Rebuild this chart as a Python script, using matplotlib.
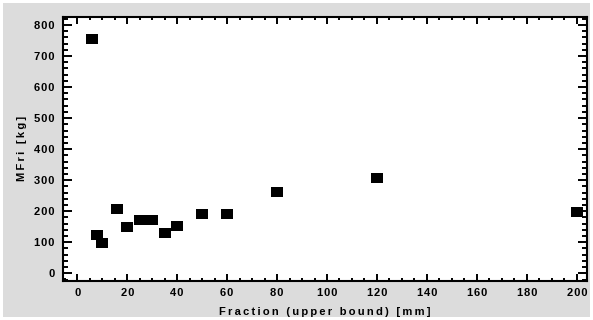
import matplotlib
matplotlib.use("Agg")
import matplotlib.pyplot as plt
from matplotlib.ticker import MultipleLocator, FuncFormatter

# Fraction upper bound [mm] vs MFri [kg]
fraction_mm = [6, 8, 10, 16, 20, 25, 30, 35, 40, 50, 60, 80, 120, 200]
mfri_kg = [754, 123, 97, 207, 150, 171, 171, 130, 153, 190, 190, 261, 307, 196]

x_ticks = list(range(0, 201, 20))
y_ticks = list(range(0, 801, 100))

x_label = "Fraction (upper bound) [mm]"
y_label = "MFri [kg]"

plt.rcParams["font.family"] = ["Liberation Sans", "DejaVu Sans"]
plt.rcParams["font.weight"] = "bold"


def spaced(s, gap="\u200a"):
    # the original uses wide letter tracking
    return gap.join(s)


fig = plt.figure(figsize=(5.93, 3.2), dpi=100)
fig.patch.set_facecolor("#dcdcdc")
fig.patch.set_edgecolor("white")
fig.patch.set_linewidth(3)

ax = fig.add_axes([63 / 593, 1 - 280.6 / 320, (587 - 63) / 593, (280.6 - 17) / 320])
ax.set_facecolor("white")

# wide, flat square marker like the original
rect = [(-1, -0.76), (1, -0.76), (1, 0.76), (-1, 0.76), (-1, -0.76)]
ax.plot(fraction_mm, mfri_kg, linestyle="none", marker=rect,
        markersize=9.2, color="black", markeredgewidth=0)

ax.set_xlim(-5.7, 204.1)
ax.set_ylim(-23.5, 825.8)
ax.set_xticks(x_ticks)
ax.set_yticks(y_ticks)
ax.xaxis.set_minor_locator(MultipleLocator(5))
ax.yaxis.set_minor_locator(MultipleLocator(20))
fmt = FuncFormatter(lambda v, pos: spaced(str(int(round(v)))))
ax.xaxis.set_major_formatter(fmt)
ax.yaxis.set_major_formatter(fmt)

for s in ax.spines.values():
    s.set_linewidth(1.5)

ax.tick_params(axis="x", which="major", direction="in", length=5, width=1.4,
               top=True, labelsize=8, pad=5.5)
ax.tick_params(axis="x", which="minor", direction="in", length=2.5, width=1.4, top=True)
ax.tick_params(axis="y", which="major", direction="in", length=6.5, width=1.4,
               right=True, labelsize=8, pad=6)
ax.tick_params(axis="y", which="minor", direction="in", length=3.5, width=1.4, right=True)

ax.set_xlabel(spaced(x_label, "\u2009"), fontsize=8, fontweight="bold", labelpad=6.5)
ax.set_ylabel(spaced(y_label, "\u2009"), fontsize=8, fontweight="bold", labelpad=5.5)

fig.savefig("out.png", dpi=100, facecolor=fig.get_facecolor(), edgecolor="white")
